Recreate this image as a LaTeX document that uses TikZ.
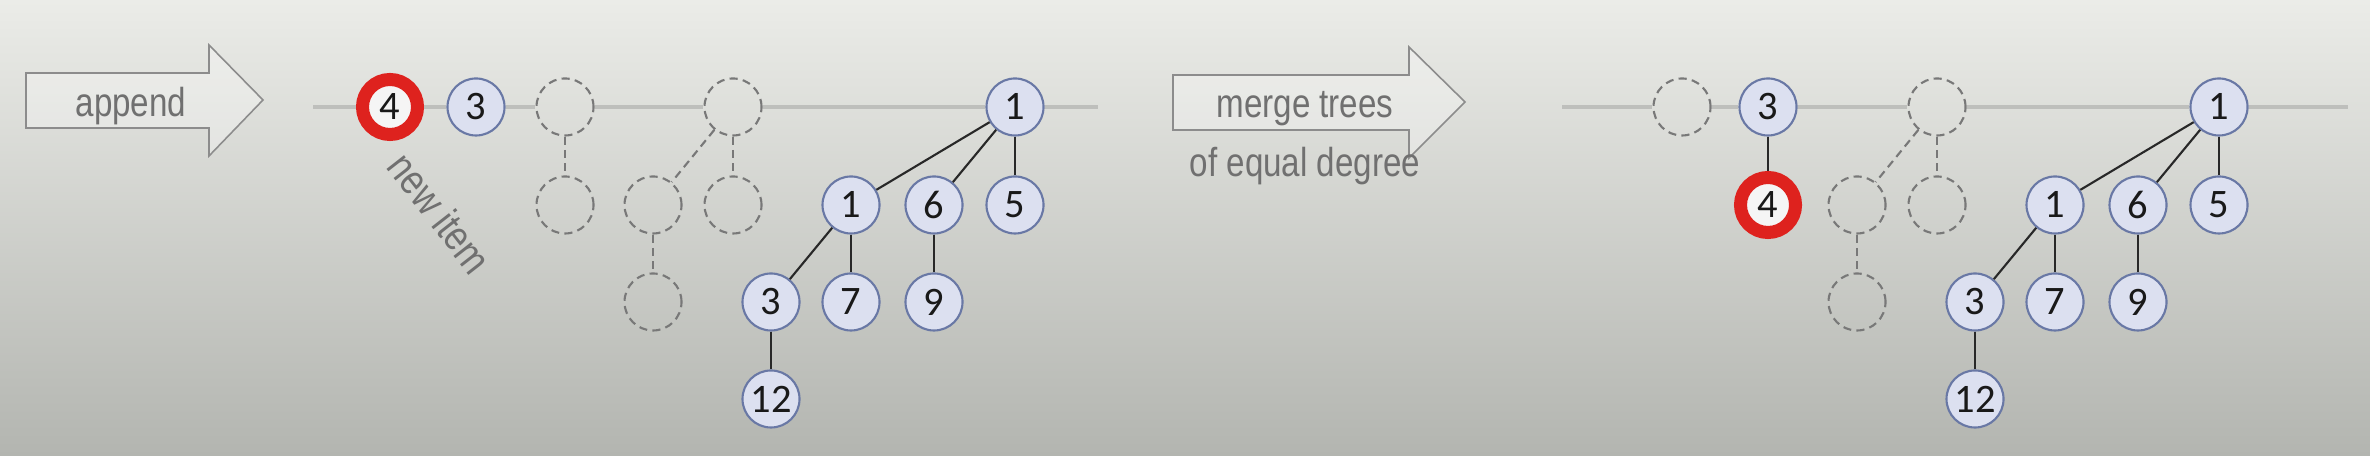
\documentclass[tikz,border=0pt]{standalone}
\usepackage{fontspec}
\setmainfont{Carlito}
\newfontfamily\narrowsans[FakeStretch=0.82]{Liberation Sans}
\usetikzlibrary{calc}
\definecolor{bgtop}{RGB}{235,236,232}
\definecolor{bgmid}{RGB}{220,221,217}
\definecolor{bgbot}{RGB}{179,181,176}
\definecolor{nodefill}{RGB}{220,224,240}
\definecolor{nodeline}{RGB}{105,120,165}
\definecolor{newred}{RGB}{222,34,30}
\definecolor{newfill}{RGB}{245,245,245}
\definecolor{ghostgray}{RGB}{120,120,120}
\definecolor{linkgray}{RGB}{40,40,40}
\definecolor{listgray}{RGB}{190,191,188}
\definecolor{arrowgray}{RGB}{140,140,140}
\definecolor{captiongray}{RGB}{112,112,112}

\begin{document}
\begin{tikzpicture}[x=0.01cm, y=-0.01cm,
    heapnode/.style={circle, draw=nodeline, fill=nodefill, line width=0.6pt,
        minimum size=0.57cm, inner sep=0pt, text=black!90,
        font=\fontsize{11.5}{12}\selectfont},
    newnode/.style={heapnode, draw=newred, fill=newfill, line width=3.7pt, minimum size=0.55cm},
    ghost/.style={circle, draw=ghostgray, line width=0.6pt,
        dash pattern=on 2.3pt off 1.5pt, minimum size=0.57cm, inner sep=0pt},
    link/.style={draw=linkgray, line width=0.6pt},
    ghostlink/.style={draw=ghostgray, line width=0.6pt, dash pattern=on 2.3pt off 1.5pt},
    rootlist/.style={draw=listgray, line width=1.4pt},
    bigarrow/.style={draw=arrowgray, line width=0.45pt, fill=white, fill opacity=0.3},
    caption/.style={text=captiongray, font=\narrowsans\fontsize{11.5}{13}\selectfont}]

    % Background
    \shade[top color=bgtop, middle color=bgmid, bottom color=bgbot] (0,0) rectangle (2370,456);

    % Arrows
    \draw[bigarrow] (26,73) -- (209,73) -- (209,45) -- (263,100) -- (209,156) -- (209,128) -- (26,128) -- cycle;
    \draw[bigarrow] (1173,75) -- (1409,75) -- (1409,47) -- (1465,102) -- (1409,158) -- (1409,130) -- (1173,130) -- cycle;
    \node[caption, anchor=base] (appendtxt) at (131,117) {append};
    \node[caption, anchor=base] (mergetxt) at (1305,118) {merge trees};
    \node[caption, anchor=base] (degreetxt) at (1305,177) {of equal degree};

    % Trees found in both lists
    \foreach \s/\o in {l/0, r/1204} {
        % degree 3
        \node[heapnode] (root\s) at (1015+\o,107) {1};
        \node[heapnode] (one\s) at (851+\o,205) {1};
        \node[heapnode] (six\s) at (934+\o,205) {6};
        \node[heapnode] (five\s) at (1015+\o,205) {5};
        \node[heapnode] (three\s) at (771+\o,302) {3};
        \node[heapnode] (seven\s) at (851+\o,302) {7};
        \node[heapnode] (nine\s) at (934+\o,302) {9};
        \node[heapnode] (twelve\s) at (771+\o,399) {12};
        \draw[link] (root\s) -- (one\s);
        \draw[link] (root\s) -- (six\s);
        \draw[link] (root\s) -- (five\s);
        \draw[link] (one\s) -- (three\s);
        \draw[link] (one\s) -- (seven\s);
        \draw[link] (six\s) -- (nine\s);
        \draw[link] (three\s) -- (twelve\s);
        % empty degree 2
        \node[ghost] (gtop\s) at (733+\o,107) {};
        \node[ghost] (gleft\s) at (653+\o,205) {};
        \node[ghost] (gright\s) at (733+\o,205) {};
        \node[ghost] (gdeep\s) at (653+\o,302) {};
        \draw[ghostlink] (gtop\s) -- (gleft\s);
        \draw[ghostlink] (gtop\s) -- (gright\s);
        \draw[ghostlink] (gleft\s) -- (gdeep\s);
    }

    % Left: after append
    \node[newnode] (newl) at (390,107) {4};
    \node[heapnode] (smalll) at (476,107) {3};
    \node[ghost] (gone) at (565,107) {};
    \node[ghost] (gonechild) at (565,205) {};
    \draw[ghostlink] (gone) -- (gonechild);
    \node[caption, rotate=-52, font=\narrowsans\fontsize{12}{13}\selectfont] (newtxt) at (440,213) {new item};

    % Right: after merge
    \node[ghost] (gzero) at (1682,107) {};
    \node[heapnode] (smallr) at (1768,107) {3};
    \node[newnode] (newr) at (1768,205) {4};
    \draw[link] (smallr) -- (newr);

    % Root lists
    \coordinate (startl) at (313,107);
    \coordinate (endl) at (1098,107);
    \coordinate (startr) at (1562,107);
    \coordinate (endr) at (2348,107);
    \draw[rootlist] (startl) -- (newl);
    \draw[rootlist] (newl) -- (smalll);
    \draw[rootlist] (smalll) -- (gone);
    \draw[rootlist] (gone) -- (gtopl);
    \draw[rootlist] (gtopl) -- (rootl);
    \draw[rootlist] (rootl) -- (endl);
    \draw[rootlist] (startr) -- (gzero);
    \draw[rootlist] (gzero) -- (smallr);
    \draw[rootlist] (smallr) -- (gtopr);
    \draw[rootlist] (gtopr) -- (rootr);
    \draw[rootlist] (rootr) -- (endr);
\end{tikzpicture}
\end{document}
